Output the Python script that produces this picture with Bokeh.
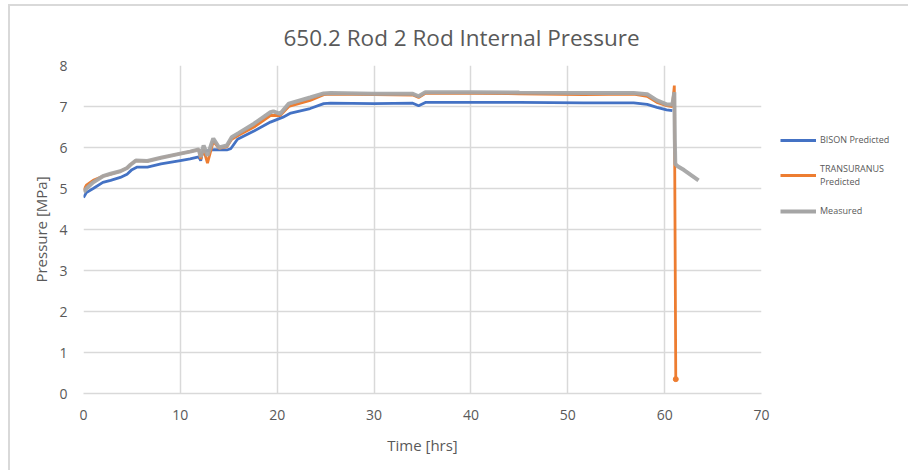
from bokeh.plotting import figure
from bokeh.layouts import row
from bokeh.models import Legend, LegendItem, Range1d, FixedTicker
from bokeh.embed import file_html
from bokeh.resources import INLINE

title = "650.2 Rod 2 Rod Internal Pressure"
x_label = "Time [hrs]"
y_label = "Pressure [MPa]"
x_ticks = [0, 10, 20, 30, 40, 50, 60, 70]
y_ticks = [0, 1, 2, 3, 4, 5, 6, 7, 8]
series_names = ["BISON Predicted", "TRANSURANUS\nPredicted", "Measured"]

bison_t = [0, 0.3, 1, 2, 2.8, 3.8, 4.5, 5.0, 5.5, 6.6, 8, 10, 11, 11.9, 12.1, 12.3, 13, 13.5,
           14.8, 15.2, 15.9, 17.6, 19.3, 20.6, 21.4, 23.4, 24.8, 25.5, 30, 34, 34.6, 35.3,
           40, 45, 51.6, 56.8, 58.2, 59.2, 60.2, 60.8]
bison_p = [4.78, 4.9, 5.0, 5.15, 5.2, 5.27, 5.35, 5.46, 5.52, 5.52, 5.6, 5.68, 5.72, 5.77, 5.68,
           5.89, 5.93, 5.95, 5.94, 5.97, 6.2, 6.4, 6.62, 6.74, 6.84, 6.95, 7.07, 7.08, 7.07, 7.08,
           7.02, 7.1, 7.1, 7.1, 7.09, 7.09, 7.05, 6.98, 6.92, 6.9]

trans_t = [0, 0.3, 1, 2, 2.8, 3.8, 4.5, 4.85, 5.4, 6.6, 8, 10, 11, 11.9, 12.1, 12.4, 12.8, 13.4,
           14.0, 14.8, 15.3, 16, 17.6, 19.3, 20.3, 21.2, 23.4, 24.8, 25.5, 30, 34, 34.6, 35.3,
           40, 45, 51.6, 56.8, 58.2, 59.2, 60.2, 60.8, 61.0, 61.15]
trans_p = [4.95, 5.08, 5.2, 5.3, 5.35, 5.42, 5.5, 5.58, 5.68, 5.67, 5.75, 5.85, 5.9, 5.95, 5.72,
           5.95, 5.62, 6.15, 5.98, 6.02, 6.2, 6.3, 6.5, 6.78, 6.78, 7.0, 7.15, 7.29, 7.3, 7.29,
           7.28, 7.22, 7.32, 7.32, 7.31, 7.29, 7.3, 7.25, 7.1, 7.02, 7.0, 7.51, 0.35]

meas_t = [0, 0.3, 1, 2, 2.8, 3.8, 4.5, 4.85, 5.4, 6.6, 8, 10, 11, 11.9, 12.1, 12.4, 12.8, 13.4,
          14.0, 14.8, 15.3, 16, 17.6, 19.3, 19.6, 20.3, 21.2, 23.4, 24.8, 25.5, 30, 34, 34.6,
          35.3, 40, 45, 51.6, 56.8, 58.2, 59.2, 60.2, 60.8, 61.0, 61.05, 61.1, 61.3, 62, 63.5]
meas_p = [4.91, 5.0, 5.15, 5.3, 5.36, 5.42, 5.5, 5.58, 5.68, 5.67, 5.75, 5.85, 5.9, 5.95, 5.77,
          6.05, 5.8, 6.22, 6.0, 6.05, 6.25, 6.35, 6.58, 6.86, 6.88, 6.82, 7.07, 7.22, 7.32, 7.33,
          7.31, 7.31, 7.25, 7.35, 7.35, 7.34, 7.33, 7.33, 7.3, 7.15, 7.05, 7.05, 7.35, 6.2, 5.6,
          5.55, 5.45, 5.2]

GRID = "#d9d9d9"
TXT = "#595959"
FONT = "Open Sans"
COLORS = ["#4472c4", "#ed7d31", "#a5a5a5"]
WIDTHS = [2.8, 2.8, 4]
SERIES = [(bison_t, bison_p), (trans_t, trans_p), (meas_t, meas_p)]

p = figure(width=770, height=466, output_backend="svg", toolbar_location=None,
           x_range=Range1d(0, 70), y_range=Range1d(0, 8),
           min_border_left=73, min_border_right=19, min_border_top=59, min_border_bottom=79)
p.outline_line_color = None
p.background_fill_color = "white"
p.border_fill_color = "white"

p.title.text = title
p.title.text_font = FONT
p.title.text_font_size = "22.5px"
p.title.text_font_style = "normal"
p.title.text_color = TXT
p.title.align = "left"
p.title.offset = 200
p.title.standoff = 26

p.xaxis.ticker = FixedTicker(ticks=x_ticks)
p.yaxis.ticker = FixedTicker(ticks=y_ticks)
p.xgrid.ticker = FixedTicker(ticks=x_ticks)
p.ygrid.ticker = FixedTicker(ticks=y_ticks)
p.grid.grid_line_color = GRID
p.grid.grid_line_width = 1.5

for ax in (p.xaxis[0], p.yaxis[0]):
    ax.major_tick_line_color = None
    ax.minor_tick_line_color = None
    ax.major_label_text_font = FONT
    ax.major_label_text_font_size = "14px"
    ax.major_label_text_color = TXT
    ax.axis_label_text_font = FONT
    ax.axis_label_text_font_size = "15px"
    ax.axis_label_text_font_style = "normal"
    ax.axis_label_text_color = TXT
    ax.major_label_standoff = 10
p.xaxis.axis_line_color = GRID
p.xaxis.axis_line_width = 1.5
p.yaxis.axis_line_color = None
p.xaxis.axis_label = x_label
p.yaxis.axis_label = y_label
p.xaxis.axis_label_standoff = 12
p.yaxis.axis_label_standoff = 5

p.line(bison_t, bison_p, line_color=COLORS[0], line_width=WIDTHS[0])
p.line(trans_t, trans_p, line_color=COLORS[1], line_width=WIDTHS[1])
p.scatter(trans_t[-1:], trans_p[-1:], size=5, color=COLORS[1])
p.line(meas_t, meas_p, line_color=COLORS[2], line_width=WIDTHS[2], line_alpha=0.95)

# legend panel (its renderers hold the same series, out of this panel's view)
q = figure(width=130, height=466, output_backend="svg", toolbar_location=None,
           x_range=Range1d(0, 1), y_range=Range1d(0, 1), min_border=0)
q.axis.visible = False
q.grid.visible = False
q.outline_line_color = None
q.border_fill_color = "white"
items = []
for name, c, w, (t, v) in zip(series_names, COLORS, WIDTHS, SERIES):
    r = q.line(t, v, line_color=c, line_width=w)
    items.append(LegendItem(label=name, renderers=[r]))
legend = Legend(items=items, location=(0, 176), orientation="vertical")
legend.border_line_color = None
legend.background_fill_alpha = 0
legend.label_text_font = FONT
legend.label_text_font_size = "9px"
legend.label_text_color = TXT
legend.label_height = 12
legend.glyph_height = 12
legend.glyph_width = 36
legend.label_standoff = 4
legend.spacing = 16
legend.padding = 0
legend.margin = 0
q.add_layout(legend, "center")

layout = row(p, q, margin=(4, 0, 0, 8),
             styles={"border-top": "2px solid #d9d9d9", "border-left": "2px solid #d9d9d9"})

open("out.html", "w").write(file_html(layout, INLINE))
